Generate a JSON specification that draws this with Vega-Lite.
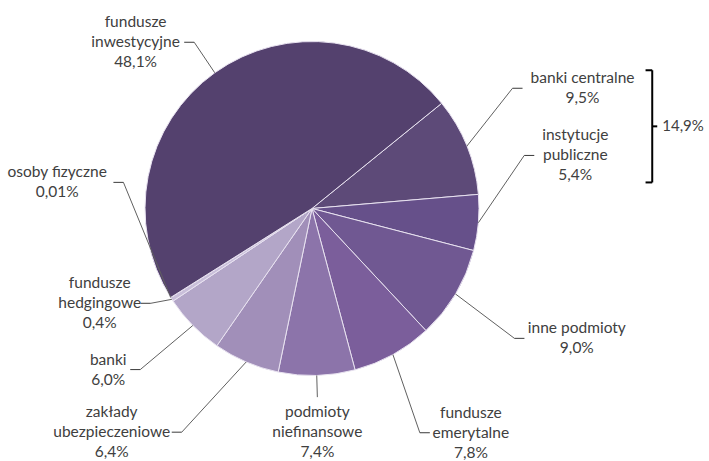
{
  "$schema": "https://vega.github.io/schema/vega-lite/v6.json",
  "width": 709,
  "height": 461,
  "padding": 0,
  "autosize": "none",
  "background": "white",
  "config": {"view": {"stroke": null}, "axis": {"disable": true}, "text": {"font": "Lato"}},
  "data": {
    "values": [
      {"kategoria": "banki centralne", "udzial": 9.5, "kolejnosc": 1, "w1": "banki centralne", "w2": "", "grupa": "sektor publiczny"},
      {"kategoria": "instytucje publiczne", "udzial": 5.4, "kolejnosc": 2, "w1": "instytucje", "w2": "publiczne", "grupa": "sektor publiczny"},
      {"kategoria": "inne podmioty", "udzial": 9.0, "kolejnosc": 3, "w1": "inne podmioty", "w2": "", "grupa": ""},
      {"kategoria": "fundusze emerytalne", "udzial": 7.8, "kolejnosc": 4, "w1": "fundusze", "w2": "emerytalne", "grupa": ""},
      {"kategoria": "podmioty niefinansowe", "udzial": 7.4, "kolejnosc": 5, "w1": "podmioty", "w2": "niefinansowe", "grupa": ""},
      {"kategoria": "zakłady ubezpieczeniowe", "udzial": 6.4, "kolejnosc": 6, "w1": "zakłady", "w2": "ubezpieczeniowe", "grupa": ""},
      {"kategoria": "banki", "udzial": 6.0, "kolejnosc": 7, "w1": "banki", "w2": "", "grupa": ""},
      {"kategoria": "fundusze hedgingowe", "udzial": 0.4, "kolejnosc": 8, "w1": "fundusze", "w2": "hedgingowe", "grupa": ""},
      {"kategoria": "osoby fizyczne", "udzial": 0.01, "kolejnosc": 9, "w1": "osoby fizyczne", "w2": "", "grupa": ""},
      {"kategoria": "fundusze inwestycyjne", "udzial": 48.1, "kolejnosc": 10, "w1": "fundusze", "w2": "inwestycyjne", "grupa": ""}
    ]
  },
  "layer": [
    {
      "mark": {"type": "arc", "outerRadius": 167, "stroke": "#e8e2f0", "strokeWidth": 1},
      "encoding": {
        "theta": {"field": "udzial", "type": "quantitative", "stack": true, "scale": {"range": [0.8892, 7.1724]}},
        "order": {"field": "kolejnosc", "type": "quantitative"},
        "color": {
          "field": "kategoria", "type": "nominal", "legend": null, "sort": null,
          "scale": {
            "domain": ["banki centralne", "instytucje publiczne", "inne podmioty", "fundusze emerytalne", "podmioty niefinansowe", "zakłady ubezpieczeniowe", "banki", "fundusze hedgingowe", "osoby fizyczne", "fundusze inwestycyjne"],
            "range": ["#5D4A78", "#66508A", "#705892", "#7B5E9B", "#8C74AA", "#A18FB9", "#B3A6C8", "#C9BFDA", "#DDD6E8", "#54416E"]
          }
        },
        "x": {"datum": 0, "type": "quantitative", "axis": null, "scale": {"domain": [-1.8683, 2.3772], "nice": false, "zero": false}},
        "y": {"datum": 0, "type": "quantitative", "axis": null, "scale": {"domain": [-1.512, 1.2485], "nice": false, "zero": false}}
      }
    },
    {
      "transform": [
        {"stack": "udzial", "groupby": [], "sort": [{"field": "kolejnosc", "order": "ascending"}], "as": ["v0", "v1"]},
        {"joinaggregate": [{"op": "sum", "field": "udzial", "as": "suma"}]},
        {"calculate": "50.95 + 360 * (datum.v0 + datum.v1) / 2 / datum.suma", "as": "mid"},
        {"calculate": "datum.kategoria === 'fundusze inwestycyjne' ? 0.3 : datum.kategoria === 'banki centralne' ? -9 : datum.kategoria === 'instytucje publiczne' ? -18.9 : datum.kategoria === 'inne podmioty' ? 1.9 : datum.kategoria === 'fundusze emerytalne' ? 3.3 : datum.kategoria === 'zakłady ubezpieczeniowe' ? 7 : datum.kategoria === 'banki' ? 1.3 : datum.kategoria === 'fundusze hedgingowe' ? 2.5 : datum.kategoria === 'osoby fizyczne' ? 40.1 : 0", "as": "przes"},
        {"calculate": "datum.kategoria === 'fundusze inwestycyjne' ? 1.22 : datum.kategoria === 'banki centralne' ? 1.40 : datum.kategoria === 'instytucje publiczne' ? 1.31 : datum.kategoria === 'inne podmioty' ? 1.44 : datum.kategoria === 'fundusze emerytalne' ? 1.49 : datum.kategoria === 'podmioty niefinansowe' ? 1.13 : datum.kategoria === 'zakłady ubezpieczeniowe' ? 1.55 : datum.kategoria === 'banki' ? 1.41 : datum.kategoria === 'fundusze hedgingowe' ? 1.12 : datum.kategoria === 'osoby fizyczne' ? 1.14 : 1.4", "as": "ra"},
        {"calculate": "datum.mid * PI / 180", "as": "ma"},
        {"calculate": "(datum.mid + datum.przes) * PI / 180", "as": "la"},
        {"calculate": "sin(datum.ma)", "as": "ex"},
        {"calculate": "cos(datum.ma)", "as": "ey"},
        {"calculate": "datum.ra * sin(datum.la)", "as": "ax"},
        {"calculate": "datum.ra * cos(datum.la)", "as": "ay"},
        {"calculate": "abs(sin(datum.la)) < 0.2 ? 0 : (sin(datum.la) > 0 ? 1 : -1)", "as": "strona"},
        {"calculate": "datum.ax + datum.strona * 0.06", "as": "bx"},
        {"calculate": "datum.udzial < 0.1 ? replace(format(datum.udzial, '.2f'), '.', ',') + '%' : replace(format(datum.udzial, '.1f'), '.', ',') + '%'", "as": "pct"},
        {"calculate": "datum.w2 ? [datum.w1, datum.w2, datum.pct] : [datum.w1, datum.pct]", "as": "etykieta"},
        {"calculate": "datum.w2 ? 3 : 2", "as": "n"},
        {"calculate": "max(length(datum.w1), length(datum.w2), length(datum.pct)) * 7.6 / 167", "as": "szer"},
        {"calculate": "datum.n * 20 / 167", "as": "wys"},
        {"calculate": "datum.strona === 0 ? datum.ax : datum.bx + datum.strona * (0.018 + datum.szer / 2)", "as": "cx"},
        {"calculate": "datum.strona === 0 ? datum.ay - 0.03 - datum.wys / 2 : datum.ay", "as": "cy"},
        {"calculate": "datum.cy + (datum.n - 1) * 10 / 167", "as": "ty"}
      ],
      "layer": [
        {
          "mark": {"type": "rule", "color": "#606060", "strokeWidth": 1},
          "encoding": {
            "x": {"field": "ex", "type": "quantitative", "scale": {"domain": [-1.8683, 2.3772], "nice": false, "zero": false}},
            "y": {"field": "ey", "type": "quantitative", "scale": {"domain": [-1.512, 1.2485], "nice": false, "zero": false}},
            "x2": {"field": "ax"},
            "y2": {"field": "ay"}
          }
        },
        {
          "mark": {"type": "rule", "color": "#3a3a3a", "strokeWidth": 1},
          "encoding": {
            "x": {"field": "ax", "type": "quantitative", "scale": {"domain": [-1.8683, 2.3772], "nice": false, "zero": false}},
            "y": {"field": "ay", "type": "quantitative", "scale": {"domain": [-1.512, 1.2485], "nice": false, "zero": false}},
            "x2": {"field": "bx"}
          }
        },
        {
          "mark": {"type": "text", "fontSize": 15.5, "color": "#404040", "align": "center", "baseline": "middle", "lineHeight": 20},
          "encoding": {
            "x": {"field": "cx", "type": "quantitative", "scale": {"domain": [-1.8683, 2.3772], "nice": false, "zero": false}},
            "y": {"field": "ty", "type": "quantitative", "scale": {"domain": [-1.512, 1.2485], "nice": false, "zero": false}},
            "text": {"field": "etykieta", "type": "nominal"}
          }
        },
        {
          "transform": [
            {"filter": "datum.grupa === 'sektor publiczny'"},
            {"calculate": "datum.cy + datum.wys / 2", "as": "gora"},
            {"calculate": "datum.cy - datum.wys / 2", "as": "dol"},
            {"calculate": "datum.cx + datum.szer / 2", "as": "prawo"},
            {"aggregate": [
              {"op": "sum", "field": "udzial", "as": "razem"},
              {"op": "max", "field": "gora", "as": "gora"},
              {"op": "min", "field": "dol", "as": "dol"},
              {"op": "max", "field": "prawo", "as": "prawo"}
            ], "groupby": ["grupa"]},
            {"calculate": "datum.gora - 0.012", "as": "gora"},
            {"calculate": "datum.dol + 0.018", "as": "dol"},
            {"calculate": "datum.prawo + 0.076", "as": "kx"},
            {"calculate": "datum.kx - 0.04", "as": "kx0"},
            {"calculate": "datum.kx + 0.03", "as": "kx1"},
            {"calculate": "datum.kx + 0.06", "as": "tx"},
            {"calculate": "(datum.gora + datum.dol) / 2", "as": "sr"},
            {"calculate": "replace(format(datum.razem, '.1f'), '.', ',') + '%'", "as": "suma_txt"}
          ],
          "layer": [
            {
              "mark": {"type": "rule", "color": "#000000", "strokeWidth": 2},
              "encoding": {
                "x": {"field": "kx", "type": "quantitative", "scale": {"domain": [-1.8683, 2.3772], "nice": false, "zero": false}},
                "y": {"field": "dol", "type": "quantitative", "scale": {"domain": [-1.512, 1.2485], "nice": false, "zero": false}},
                "y2": {"field": "gora"}
              }
            },
            {
              "mark": {"type": "rule", "color": "#000000", "strokeWidth": 2},
              "encoding": {
                "x": {"field": "kx0", "type": "quantitative", "scale": {"domain": [-1.8683, 2.3772], "nice": false, "zero": false}},
                "x2": {"field": "kx"},
                "y": {"field": "gora", "type": "quantitative", "scale": {"domain": [-1.512, 1.2485], "nice": false, "zero": false}}
              }
            },
            {
              "mark": {"type": "rule", "color": "#000000", "strokeWidth": 2},
              "encoding": {
                "x": {"field": "kx0", "type": "quantitative", "scale": {"domain": [-1.8683, 2.3772], "nice": false, "zero": false}},
                "x2": {"field": "kx"},
                "y": {"field": "dol", "type": "quantitative", "scale": {"domain": [-1.512, 1.2485], "nice": false, "zero": false}}
              }
            },
            {
              "mark": {"type": "rule", "color": "#000000", "strokeWidth": 2},
              "encoding": {
                "x": {"field": "kx", "type": "quantitative", "scale": {"domain": [-1.8683, 2.3772], "nice": false, "zero": false}},
                "x2": {"field": "kx1"},
                "y": {"field": "sr", "type": "quantitative", "scale": {"domain": [-1.512, 1.2485], "nice": false, "zero": false}}
              }
            },
            {
              "mark": {"type": "text", "fontSize": 15, "color": "#404040", "align": "left", "baseline": "middle"},
              "encoding": {
                "x": {"field": "tx", "type": "quantitative", "scale": {"domain": [-1.8683, 2.3772], "nice": false, "zero": false}},
                "y": {"field": "sr", "type": "quantitative", "scale": {"domain": [-1.512, 1.2485], "nice": false, "zero": false}},
                "text": {"field": "suma_txt", "type": "nominal"}
              }
            }
          ]
        }
      ]
    }
  ]
}
